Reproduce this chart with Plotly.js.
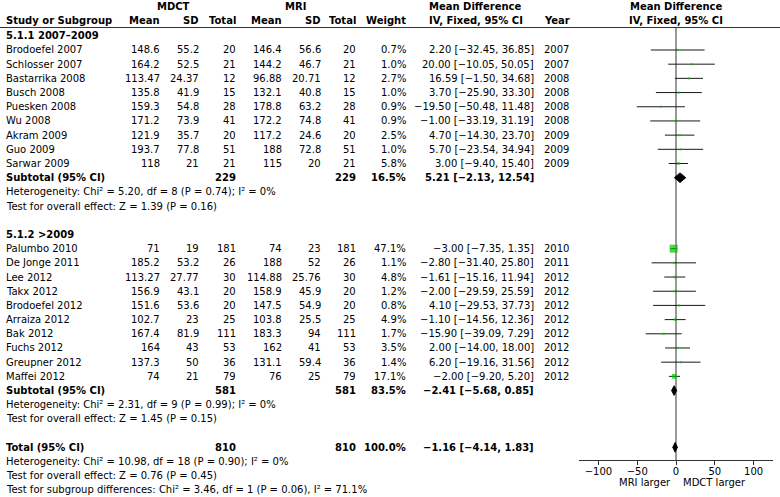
<!DOCTYPE html>
<html><head><meta charset="utf-8">
<script src="https://cdn.plot.ly/plotly-3.0.1.min.js"></script>
<style>body{margin:0;background:#fff}</style>
</head><body><div id="chart" style="width:780px;height:497px"></div>
<script>
// ---------- data ----------
const studyNames = ["Brodoefel 2007","Schlosser 2007","Bastarrika 2008","Busch 2008","Puesken 2008","Wu 2008","Akram 2009","Guo 2009","Sarwar 2009",
  "Palumbo 2010","De Jonge 2011","Lee 2012","Takx 2012","Brodoefel 2012","Arraiza 2012","Bak 2012","Fuchs 2012","Greupner 2012","Maffei 2012"];
const studyGroup = [0,0,0,0,0,0,0,0,0, 1,1,1,1,1,1,1,1,1,1];
const mdctMean = [148.6,164.2,113.47,135.8,159.3,171.2,121.9,193.7,118, 71,185.2,113.27,156.9,151.6,102.7,167.4,164,137.3,74];
const mdctSD   = [55.2,52.5,24.37,41.9,54.8,73.9,35.7,77.8,21, 19,53.2,27.77,43.1,53.6,23,81.9,43,50,21];
const mdctN    = [20,21,12,15,28,41,20,51,21, 181,26,30,20,20,25,111,53,36,79];
const mriMean  = [146.4,144.2,96.88,132.1,178.8,172.2,117.2,188,115, 74,188,114.88,158.9,147.5,103.8,183.3,162,131.1,76];
const mriSD    = [56.6,46.7,20.71,40.8,63.2,74.8,24.6,72.8,20, 23,52,25.76,45.9,54.9,25.5,94,41,59.4,25];
const mriN     = [20,21,12,15,28,41,20,51,21, 181,26,30,20,20,25,111,53,36,79];
const weights  = [0.7,1.0,2.7,1.0,0.9,0.9,2.5,1.0,5.8, 47.1,1.1,4.8,1.2,0.8,4.9,1.7,3.5,1.4,17.1];
const meanDiff = [2.20,20.00,16.59,3.70,-19.50,-1.00,4.70,5.70,3.00, -3.00,-2.80,-1.61,-2.00,4.10,-1.10,-15.90,2.00,6.20,-2.00];
const ciLow    = [-32.45,-10.05,-1.50,-25.90,-50.48,-33.19,-14.30,-23.54,-9.40, -7.35,-31.40,-15.16,-29.59,-29.53,-14.56,-39.09,-14.00,-19.16,-9.20];
const ciHigh   = [36.85,50.05,34.68,33.30,11.48,31.19,23.70,34.94,15.40, 1.35,25.80,11.94,25.59,37.73,12.36,7.29,18.00,31.56,5.20];
const years    = [2007,2007,2008,2008,2008,2008,2009,2009,2009, 2010,2011,2012,2012,2012,2012,2012,2012,2012,2012];

const subgroupTitles = ["5.1.1 2007\u20132009", "5.1.2 >2009"];
const subN      = [229, 581];
const subWeight = [16.5, 83.5];
const subMD     = [5.21, -2.41];
const subLow    = [-2.13, -5.68];
const subHigh   = [12.54, 0.85];
const subHet    = ["Heterogeneity: Chi\u00b2 = 5.20, df = 8 (P = 0.74); I\u00b2 = 0%",
                   "Heterogeneity: Chi\u00b2 = 2.31, df = 9 (P = 0.99); I\u00b2 = 0%"];
const subTest   = ["Test for overall effect: Z = 1.39 (P = 0.16)",
                   "Test for overall effect: Z = 1.45 (P = 0.15)"];
const totalN = 810, totalWeight = 100.0, totalMD = -1.16, totalLow = -4.14, totalHigh = 1.83;
const totalNotes = ["Heterogeneity: Chi\u00b2 = 10.98, df = 18 (P = 0.90); I\u00b2 = 0%",
                    "Test for overall effect: Z = 0.76 (P = 0.45)",
                    "Test for subgroup differences: Chi\u00b2 = 3.46, df = 1 (P = 0.06), I\u00b2 = 71.1%"];
const xTicks = [-100, -50, 0, 50, 100];
const favourLabels = ["MRI larger", "MDCT larger"];

// ---------- layout helpers ----------
const W = 780, H = 497;
const L = 579, R = 7, T = 28, B = 37;
const PW = W - L - R, PH = H - T - B;
const ROW0 = 35.8, ROWH = 14.19;
const rowPx = r => ROW0 + ROWH * r;
const px2x = p => (p - L) / PW;
const px2y = p => (H - B - p) / PH;
const FONT = "DejaVu Sans";
const fmt = v => v.toFixed(2).replace('-', '\u2212');
const ciText = (m, lo, hi) => `${fmt(m)} [${fmt(lo)}, ${fmt(hi)}]`;

const annotations = [];
function txt(text, xpx, ypx, anchor, bold) {
  annotations.push({
    text: bold ? `<b>${text}</b>` : text,
    xref: 'paper', yref: 'paper', x: px2x(xpx), y: px2y(ypx),
    xanchor: anchor, yanchor: 'middle', showarrow: false,
    font: {family: FONT, size: 10, color: '#000'}, borderpad: 0
  });
}
const COL = {name: 5, m1: 161, s1: 200, n1: 237, m2: 283, s2: 322, n2: 357, w: 407, ci: 535, yr: 543};

// headers
txt("MDCT", 173, 6.5, 'center', true);
txt("MRI", 295, 6.5, 'center', true);
txt("Mean Difference", 428, 6.5, 'left', true);
txt("Study or Subgroup", COL.name, 21, 'left', true);
txt("Mean", COL.m1, 21, 'right', true);
txt("SD", COL.s1, 21, 'right', true);
txt("Total", COL.n1, 21, 'right', true);
txt("Mean", COL.m2, 21, 'right', true);
txt("SD", COL.s2, 21, 'right', true);
txt("Total", COL.n2, 21, 'right', true);
txt("Weight", COL.w, 21, 'right', true);
txt("IV, Fixed, 95% CI", 428, 21, 'left', true);
txt("Year", COL.yr, 21, 'left', true);
txt("Mean Difference", 676, 6.5, 'center', true);
txt("IV, Fixed, 95% CI", 676, 21, 'center', true);

// rows
const studyRow = [], subRow = [];
let r = 0;
for (let g = 0; g < subgroupTitles.length; g++) {
  txt(subgroupTitles[g], COL.name, rowPx(r), 'left', true);
  r++;
  for (let i = 0; i < studyNames.length; i++) {
    if (studyGroup[i] !== g) continue;
    studyRow[i] = r;
    const y = rowPx(r);
    txt(studyNames[i], COL.name, y, 'left', false);
    txt(String(mdctMean[i]), COL.m1, y, 'right', false);
    txt(String(mdctSD[i]), COL.s1, y, 'right', false);
    txt(String(mdctN[i]), COL.n1, y, 'right', false);
    txt(String(mriMean[i]), COL.m2, y, 'right', false);
    txt(String(mriSD[i]), COL.s2, y, 'right', false);
    txt(String(mriN[i]), COL.n2, y, 'right', false);
    txt(weights[i].toFixed(1) + '%', COL.w, y, 'right', false);
    txt(ciText(meanDiff[i], ciLow[i], ciHigh[i]), COL.ci, y, 'right', false);
    txt(String(years[i]), COL.yr, y, 'left', false);
    r++;
  }
  subRow[g] = r;
  let y = rowPx(r);
  txt("Subtotal (95% CI)", COL.name, y, 'left', true);
  txt(String(subN[g]), COL.n1, y, 'right', true);
  txt(String(subN[g]), COL.n2, y, 'right', true);
  txt(subWeight[g].toFixed(1) + '%', COL.w, y, 'right', true);
  txt(ciText(subMD[g], subLow[g], subHigh[g]), COL.ci, y, 'right', true);
  r++;
  txt(subHet[g], COL.name, rowPx(r), 'left', false); r++;
  txt(subTest[g], COL.name, rowPx(r), 'left', false); r++;
  r++;
}
const totalRow = r;
txt("Total (95% CI)", COL.name, rowPx(r), 'left', true);
txt(String(totalN), COL.n1, rowPx(r), 'right', true);
txt(String(totalN), COL.n2, rowPx(r), 'right', true);
txt(totalWeight.toFixed(1) + '%', COL.w, rowPx(r), 'right', true);
txt(ciText(totalMD, totalLow, totalHigh), COL.ci, rowPx(r), 'right', true);
r++;
totalNotes.forEach(t => { txt(t, COL.name, rowPx(r), 'left', false); r++; });

// favour labels
txt(favourLabels[0], 672, 482.5, 'right', false);
txt(favourLabels[1], 682, 482.5, 'left', false);

// ---------- traces ----------
const lx = [], ly = [];
studyNames.forEach((_, i) => { lx.push(ciLow[i], ciHigh[i], null); ly.push(studyRow[i], studyRow[i], null); });
const traces = [{
  type: 'scatter', mode: 'lines', x: lx, y: ly, hoverinfo: 'skip',
  line: {color: '#1a1a1a', width: 1}, showlegend: false
}, {
  type: 'scatter', mode: 'markers', x: meanDiff, y: studyRow,
  marker: {symbol: 'square', color: '#00c400', size: weights.map(w => Math.max(2.2, 8 * Math.sqrt(w / 47.1))), line: {width: 0}},
  showlegend: false
}];
const diamonds = [[subMD[0], subLow[0], subHigh[0], subRow[0]],
                  [subMD[1], subLow[1], subHigh[1], subRow[1]],
                  [totalMD, totalLow, totalHigh, totalRow]];
diamonds.forEach(([m, lo, hi, row]) => {
  const h = 0.34;
  traces.push({
    type: 'scatter', mode: 'lines', fill: 'toself', fillcolor: '#000',
    x: [lo, m, hi, m, lo], y: [row, row - h, row, row + h, row],
    line: {color: '#000', width: 1}, showlegend: false, hoverinfo: 'skip'
  });
});

const layout = {
  width: W, height: H,
  margin: {l: L, r: R, t: T, b: B, pad: 0},
  paper_bgcolor: '#fff', plot_bgcolor: '#fff',
  showlegend: false,
  xaxis: {
    range: [-125, 125], tickvals: xTicks, ticks: 'outside', ticklen: 4, tickcolor: '#333',
    ticklabelstandoff: -2,
    showline: true, linecolor: '#333', linewidth: 1, showgrid: false, zeroline: false,
    tickfont: {family: FONT, size: 10, color: '#000'}, fixedrange: true
  },
  yaxis: {range: [(H - B - ROW0) / ROWH, (T - ROW0) / ROWH], visible: false, fixedrange: true},
  shapes: [
    {type: 'line', xref: 'x', yref: 'paper', x0: 0, x1: 0, y0: 0, y1: 1, line: {color: '#333', width: 1}, layer: 'below'},
    {type: 'line', xref: 'paper', yref: 'paper', x0: px2x(0), x1: px2x(W), y0: px2y(27.5), y1: px2y(27.5), line: {color: '#333', width: 1}}
  ],
  annotations: annotations
};
Plotly.newPlot('chart', traces, layout, {staticPlot: true, displayModeBar: false});
</script>
</body></html>
